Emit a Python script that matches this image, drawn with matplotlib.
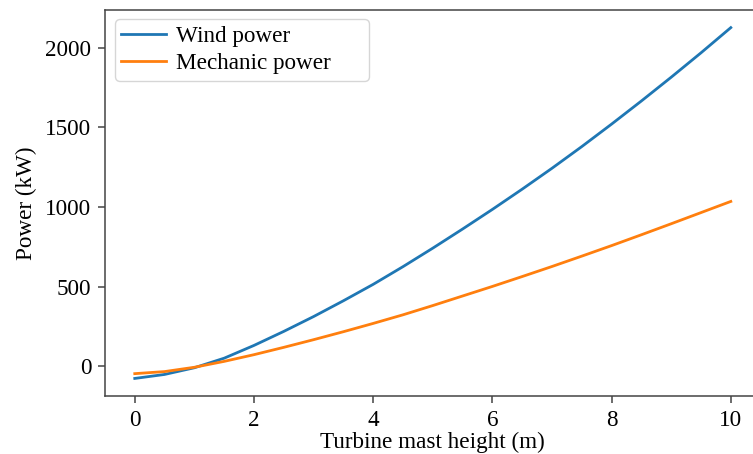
import numpy as np
import matplotlib
matplotlib.use('Agg')
import matplotlib.pyplot as plt

# mast height (m) and the two power curves (kW)
height = [0, 0.5, 1, 1.5, 2, 2.5, 3, 3.5, 4, 4.5, 5,
          5.5, 6, 6.5, 7, 7.5, 8, 8.5, 9, 9.5, 10]
wind_power = [-75, -50, -8, 52, 132, 220, 313, 412, 515, 626, 742,
              862, 985, 1112, 1243, 1379, 1520, 1665, 1814, 1967, 2125]
mech_power = [-45, -32, -5, 32, 74, 120, 168, 218, 270, 324, 382,
              442, 502, 564, 627, 692, 758, 826, 895, 965, 1035]

plt.rcParams['font.family'] = ['Liberation Serif', 'DejaVu Serif']
plt.rcParams['font.size'] = 16.7

fig = plt.figure(figsize=(7.53, 4.54), dpi=100)
ax = fig.add_axes([0.1394, 0.1278, 0.8707, 0.850])

ax.plot(height, wind_power, color='#1f77b4', lw=2.0, label='Wind power')
ax.plot(height, mech_power, color='#ff7f0e', lw=2.0, label='Mechanic power')

ax.set_xlim(-0.5, 10.5)
ax.set_xticks([0, 2, 4, 6, 8, 10])
ax.set_yticks([0, 500, 1000, 1500, 2000])
ax.tick_params(length=4.9, width=1.1, pad=4.9, color='#444444')
for s in ax.spines.values():
    s.set_linewidth(1.1)
    s.set_color('#444444')

ax.set_xlabel('Turbine mast height (m)', labelpad=1)
ax.set_ylabel('Power (kW)', labelpad=6)
ax.legend(loc='upper left', fontsize=16.7, framealpha=0.8,
          bbox_to_anchor=(0.0153, 0.5, 0.3874, 0.4767), mode='expand',
          borderaxespad=0, borderpad=0.28, labelspacing=0.26,
          handlelength=1.9, handletextpad=0.45)

fig.savefig('out.png', dpi=100)
